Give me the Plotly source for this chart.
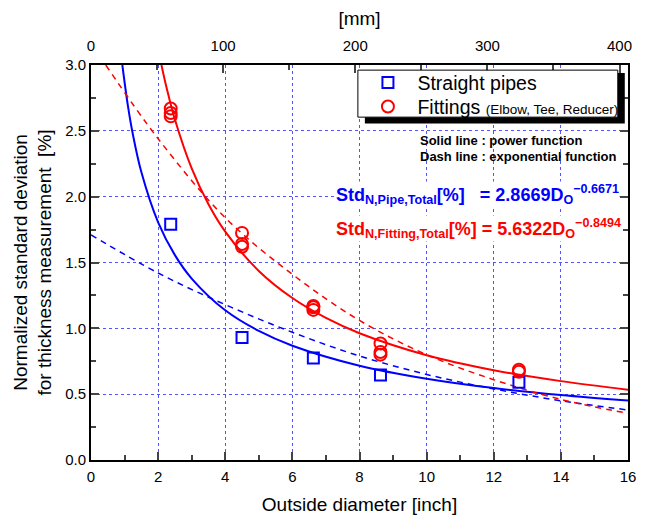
import plotly.graph_objects as go

# measured points (x = outside diameter in inch)
pipe_od = [2.375, 4.5, 6.625, 8.625, 12.75]
pipe_std = [1.79, 0.93, 0.775, 0.645, 0.59]

fit_od = [2.375, 2.375, 2.375, 4.5, 4.5, 4.5, 6.625, 6.625, 6.625, 8.625, 8.625, 8.625, 12.75, 12.75]
fit_std = [2.67, 2.635, 2.61, 1.725, 1.64, 1.62, 1.17, 1.16, 1.14, 0.885, 0.82, 0.80, 0.685, 0.67]

# fitted curves
pipe_pow_x = [0.934, 1.1, 1.25, 1.5, 2, 2.5, 3, 4, 5, 6, 8, 10, 12, 14, 16]
pipe_pow_y = [3.0, 2.69, 2.47, 2.187, 1.805, 1.556, 1.378, 1.137, 0.98, 0.868, 0.716, 0.617, 0.546, 0.493, 0.451]

fit_pow_x = [2.099, 2.25, 2.5, 3, 3.5, 4, 5, 6, 7, 8, 10, 12, 14, 16]
fit_pow_y = [3.0, 2.829, 2.586, 2.215, 1.943, 1.735, 1.436, 1.23, 1.079, 0.963, 0.796, 0.682, 0.599, 0.534]

pipe_exp_x = [0, 2, 4, 6, 8, 10, 12, 14, 16]
pipe_exp_y = [1.71, 1.42, 1.18, 0.97, 0.79, 0.65, 0.54, 0.45, 0.38]

fit_exp_x = [0.44, 2, 4, 6, 8, 10, 12, 14, 16]
fit_exp_y = [3.0, 2.44, 1.84, 1.41, 1.06, 0.80, 0.61, 0.46, 0.355]

MM_PER_INCH = 25.4

BLUE = "#0000ff"
RED = "#ff0000"
GRID = "rgba(40,40,255,0.8)"
FONT = "Arial, Liberation Sans, sans-serif"

fig = go.Figure()

fig.add_trace(go.Scatter(x=pipe_pow_x, y=pipe_pow_y, mode="lines", line=dict(color=BLUE, width=2, shape="spline"),
                         showlegend=False, hoverinfo="skip"))
fig.add_trace(go.Scatter(x=fit_pow_x, y=fit_pow_y, mode="lines", line=dict(color=RED, width=2, shape="spline"),
                         showlegend=False, hoverinfo="skip"))
fig.add_trace(go.Scatter(x=pipe_exp_x, y=pipe_exp_y, mode="lines",
                         line=dict(color=BLUE, width=1.5, dash="6px,5px", shape="spline"),
                         showlegend=False, hoverinfo="skip"))
fig.add_trace(go.Scatter(x=fit_exp_x, y=fit_exp_y, mode="lines",
                         line=dict(color=RED, width=1.5, dash="6px,5px", shape="spline"),
                         showlegend=False, hoverinfo="skip"))

fig.add_trace(go.Scatter(x=pipe_od, y=pipe_std, mode="markers", name="Straight pipes", legend="legend",
                         marker=dict(symbol="square-open", size=11, color=BLUE, line=dict(width=2, color=BLUE))))
fig.add_trace(go.Scatter(x=fit_od, y=fit_std, mode="markers", legend="legend2",
                         name="Fittings <span style='font-size:13.5px'>(Elbow, Tee, Reducer)</span>",
                         marker=dict(symbol="circle-open", size=12, color=RED, line=dict(width=2, color=RED))))

# same pipe points in mm, invisible, so the top [mm] axis gets drawn
fig.add_trace(go.Scatter(x=[d * MM_PER_INCH for d in pipe_od], y=pipe_std, xaxis="x2", mode="markers",
                         marker=dict(opacity=0), showlegend=False, hoverinfo="skip"))

# legend frame with shadow
fig.add_shape(type="rect", xref="paper", yref="paper", x0=0.510, x1=0.994, y0=0.852, y1=0.980,
              fillcolor="black", line=dict(width=0), layer="above")
fig.add_shape(type="rect", xref="paper", yref="paper", x0=0.497, x1=0.981, y0=0.868, y1=0.987,
              fillcolor="white", line=dict(width=1, color="black"), layer="above")

fig.add_annotation(x=9.74, y=2.43, xanchor="left", text="<b>Solid line : power function</b>",
                   showarrow=False, font=dict(size=13, color="black"))
fig.add_annotation(x=9.74, y=2.303, xanchor="left", text="<b>Dash line : exponential function</b>",
                   showarrow=False, font=dict(size=13, color="black"))
fig.add_annotation(x=7.27, y=2.015, xanchor="left", bgcolor="white", borderpad=0,
                   text="<b>Std<sub>N,Pipe,Total</sub>[%]   = 2.8669D<sub>O</sub><sup>\u22120.6671</sup></b>",
                   showarrow=False, font=dict(size=18, color=BLUE))
fig.add_annotation(x=7.27, y=1.755, xanchor="left", bgcolor="white", borderpad=0,
                   text="<b>Std<sub>N,Fitting,Total</sub>[%] = 5.6322D<sub>O</sub><sup>\u22120.8494</sup></b>",
                   showarrow=False, font=dict(size=18, color=RED))

legend_common = dict(xanchor="left", yanchor="middle", bgcolor="rgba(0,0,0,0)", borderwidth=0,
                     font=dict(size=19.5), itemwidth=49)

fig.update_layout(
    width=638, height=508,
    margin=dict(l=83, r=18, t=57, b=56),
    paper_bgcolor="white", plot_bgcolor="white",
    font=dict(family=FONT, size=15, color="black"),
    legend=dict(x=0.498, y=0.955, **legend_common),
    legend2=dict(x=0.498, y=0.894, **legend_common),
    xaxis=dict(range=[0, 16], dtick=2, tick0=0, ticks="inside", ticklen=8, tickwidth=1.5,
               minor=dict(dtick=1, ticks="inside", ticklen=5, tickwidth=1.5, showgrid=False),
               showline=True, linecolor="black", linewidth=2, mirror=False, ticklabelstandoff=2,
               showgrid=True, gridcolor=GRID, griddash="dot", gridwidth=0.8, zeroline=False,
               automargin=False,
               title=dict(text="Outside diameter [inch]", font=dict(size=19), standoff=14)),
    xaxis2=dict(range=[0, 16 * MM_PER_INCH], overlaying="x", side="top", dtick=100, tick0=0,
                ticks="inside", ticklen=8, tickwidth=1.5, ticklabelstandoff=6,
                minor=dict(dtick=50, ticks="inside", ticklen=5, tickwidth=1.5, showgrid=False),
                showline=True, linecolor="black", linewidth=2, showgrid=False, zeroline=False,
                automargin=False,
                title=dict(text="[mm]", font=dict(size=19), standoff=7)),
    yaxis=dict(range=[0, 3], dtick=0.5, tick0=0, tickformat=".1f", ticks="inside", ticklen=8, tickwidth=1.5,
               minor=dict(dtick=0.25, ticks="inside", ticklen=5, tickwidth=1.5, showgrid=False),
               showline=True, linecolor="black", linewidth=2, mirror="ticks",
               showgrid=True, gridcolor=GRID, griddash="dot", gridwidth=0.8, zeroline=False,
               automargin=False,
               title=dict(text="Normalized standard deviation<br>for thickness measurement  [%]",
                          font=dict(size=19), standoff=8)),
)

fig.write_html("out.html")
